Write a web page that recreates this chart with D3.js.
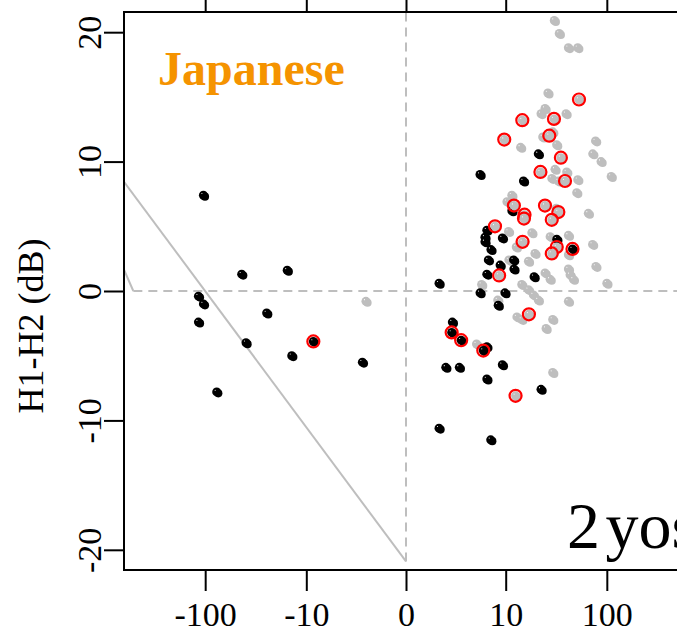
<!DOCTYPE html>
<html>
<head>
<meta charset="utf-8">
<script src="https://cdn.jsdelivr.net/npm/d3@7"></script>
<style>
  body { margin: 0; background: #fff; }
  svg { display: block; }
  text { font-family: "Liberation Serif", "Times New Roman", serif; }
</style>
</head>
<body>
<svg id="chart" width="677" height="633"></svg>
<script>
// Axis ticks
const xTicks = [-100, -10, 0, 10, 100];
const yTicks = [-20, -10, 0, 10, 20];

// Gray tokens: [x value, H1-H2 (dB)]
const grayPts = [
  [31.1, 20.9], [34.8, 19.9], [42.7, 18.8], [52.6, 18.8], [26.9, 15.3], [25.2, 14.1],
  [23.0, 13.7], [40.5, 13.7], [30.0, 12.3], [23.9, 11.9], [14.3, 11.1], [78, 11.6],
  [32.8, 11.3], [73.3, 10.6], [88, 10.0], [110, 8.85], [52.6, 8.6], [31.6, 9.4],
  [41.1, 9.2], [29.4, 8.7], [34.1, 8.5], [51.4, 7.6], [11.6, 7.4], [10.3, 6.9],
  [32.5, 6.4], [66.5, 6.0], [10.7, 4.6], [18.6, 4.5], [28.3, 4.2], [42.7, 4.3],
  [12.9, 3.4], [73, 3.6], [20.0, 2.9], [42.7, 2.8], [10.8, 2.4], [17.2, 2.3],
  [78.5, 1.9], [42.7, 1.7], [25.2, 1.4], [28.3, 0.9], [44.3, 1.25], [47.7, 0.9],
  [100, 0.6], [5.4, 0.5], [14.7, 0.5], [17.2, 0.1], [19.3, -0.3], [21.6, -0.7],
  [8.2, -0.7], [42.7, -0.8], [13.1, -2.0], [14.7, -2.2], [30.0, -2.2], [25.8, -2.9],
  [4.7, -4.1], [30.0, -6.3], [-1.8, -0.8]
];

// Black tokens
const blackPts = [
  [-104, 7.4], [-44.6, 1.3], [-15.8, 1.6], [-116, -0.4], [-104, -1.0], [-25.4, -1.7],
  [-116, -2.4], [-40.5, -4.0], [-14.2, -5.0], [-2.05, -5.5], [-77.6, -7.8],
  [21.6, 10.6], [5.17, 9.0], [15.3, 8.5], [11.6, 6.2], [6.2, 4.7], [5.9, 4.15],
  [5.9, 3.8], [9.2, 4.1], [32.9, 4.0], [6.9, 3.2], [6.45, 2.4], [8.7, 2.0],
  [12.1, 2.4], [12.2, 1.7], [6.2, 1.3], [19.6, 1.1], [1.36, 0.6], [5.17, -0.14],
  [9.8, -0.14], [8.3, -1.1], [2.25, -2.4], [6.2, -4.3], [1.78, -5.9], [2.83, -5.9],
  [9.2, -5.7], [6.2, -6.8], [23.0, -7.6], [1.36, -10.6], [6.86, -11.5]
];

// Highlighted tokens (red ring), by underlying group
const ringedGray = [
  [54.1, 14.8], [14.9, 13.2], [30.9, 13.3], [27.8, 12.0], [9.65, 11.7], [36.1, 10.3],
  [22.7, 9.2], [39.6, 8.5], [12.2, 6.6], [15.7, 5.9], [15.5, 5.6], [25.2, 6.6],
  [34.1, 6.1], [29.4, 5.5], [7.66, 5.0], [15.0, 3.8], [32.9, 3.4], [29.4, 2.9],
  [8.5, 1.2], [17.4, -1.8], [12.7, -8.1]
];
const ringedBlack = [
  [-8.4, -3.9], [46.8, 3.25], [2.2, -3.2], [3.0, -3.8], [5.65, -4.6]
];

// Reference lines: [x1, y1, x2, y2]
const guideLines = [
  [-588, 8.44, 0, -20.9],
  [-588, 1.64, -480, 0]
];

const svg = d3.select("#chart");
const L = 124, T = 12, R = 688, B = 570;

const x = d3.scaleSymlog().constant(1.3).domain([-588, 588]).range([L, R]);
const y = d3.scaleLinear().domain([-21.56, 21.56]).range([B, T]);

svg.append("defs").append("clipPath").attr("id", "plotClip")
  .append("rect").attr("x", L).attr("y", T).attr("width", R - L).attr("height", B - T);

const plot = svg.append("g").attr("clip-path", "url(#plotClip)");

// dashed zero lines
plot.append("line")
  .attr("x1", x(-480)).attr("x2", x(588)).attr("y1", y(0)).attr("y2", y(0))
  .attr("stroke", "#bebebe").attr("stroke-width", 2).attr("stroke-dasharray", "9,6");
plot.append("line")
  .attr("x1", x(0)).attr("x2", x(0)).attr("y1", y(-20.9)).attr("y2", y(21.56))
  .attr("stroke", "#bebebe").attr("stroke-width", 2).attr("stroke-dasharray", "9,6");

// solid gray guide lines
plot.selectAll("line.guide").data(guideLines).enter().append("line")
  .attr("class", "guide")
  .attr("x1", d => x(d[0])).attr("y1", d => y(d[1]))
  .attr("x2", d => x(d[2])).attr("y2", d => y(d[3]))
  .attr("stroke", "#bebebe").attr("stroke-width", 2);

function drawDots(pts, fill) {
  const g = plot.append("g").selectAll("g").data(pts).enter().append("g")
    .attr("transform", d => `translate(${x(d[0])},${y(d[1])})`);
  g.append("circle").attr("cx", 1.6).attr("cy", 1.4).attr("r", 4.1).attr("fill", fill);
  g.append("circle").attr("r", 4.5).attr("fill", fill);
  g.append("circle").attr("cx", -1.5).attr("cy", -1.7).attr("r", 0.55).attr("fill", "#fff");
  return g;
}

drawDots(grayPts, "#bebebe");
drawDots(blackPts, "#000");
drawDots(ringedGray, "#bebebe").append("circle")
  .attr("r", 6).attr("fill", "none").attr("stroke", "#ff0000").attr("stroke-width", 2.2);
drawDots(ringedBlack, "#000").append("circle")
  .attr("r", 6).attr("fill", "none").attr("stroke", "#ff0000").attr("stroke-width", 2.2);

// frame
svg.append("rect").attr("x", L).attr("y", T).attr("width", R - L).attr("height", B - T)
  .attr("fill", "none").attr("stroke", "#000").attr("stroke-width", 2);

// bottom axis
const xAxis = svg.append("g").attr("transform", `translate(0,${B})`)
  .call(d3.axisBottom(x).tickValues(xTicks).tickSize(21).tickFormat(d => String(d)));
xAxis.select(".domain").remove();
xAxis.selectAll(".tick line").attr("stroke", "#000").attr("stroke-width", 2);
xAxis.selectAll(".tick text")
  .attr("y", 56).attr("dy", null)
  .attr("fill", "#000")
  .style("font-family", '"Liberation Serif", "Times New Roman", serif')
  .style("font-size", "34px");

// top axis (ticks only)
const xTop = svg.append("g").attr("transform", `translate(0,${T})`)
  .call(d3.axisTop(x).tickValues(xTicks).tickSize(14).tickFormat(""));
xTop.select(".domain").remove();
xTop.selectAll(".tick line").attr("stroke", "#000").attr("stroke-width", 2);

// left axis
const yAxis = svg.append("g").attr("transform", `translate(${L},0)`)
  .call(d3.axisLeft(y).tickValues(yTicks).tickSize(20).tickFormat(d => String(d)));
yAxis.select(".domain").remove();
yAxis.selectAll(".tick line").attr("stroke", "#000").attr("stroke-width", 2);
yAxis.selectAll(".tick text")
  .attr("x", 0).attr("y", -23).attr("dy", null)
  .attr("transform", "rotate(-90)")
  .attr("text-anchor", "middle")
  .attr("fill", "#000")
  .style("font-family", '"Liberation Serif", "Times New Roman", serif')
  .style("font-size", "34px");

// axis title
svg.append("text")
  .attr("transform", "translate(43,326) rotate(-90)")
  .attr("text-anchor", "middle")
  .style("font-size", "36px")
  .text("H1-H2 (dB)");

// panel labels
svg.append("text")
  .attr("x", 158).attr("y", 85)
  .attr("fill", "#f59300")
  .style("font-size", "48px").style("font-weight", "bold")
  .text("Japanese");

svg.append("text")
  .attr("x", 567).attr("y", 548)
  .style("font-size", "66px")
  .style("word-spacing", "-11px")
  .text("2 yos");
</script>
</body>
</html>
